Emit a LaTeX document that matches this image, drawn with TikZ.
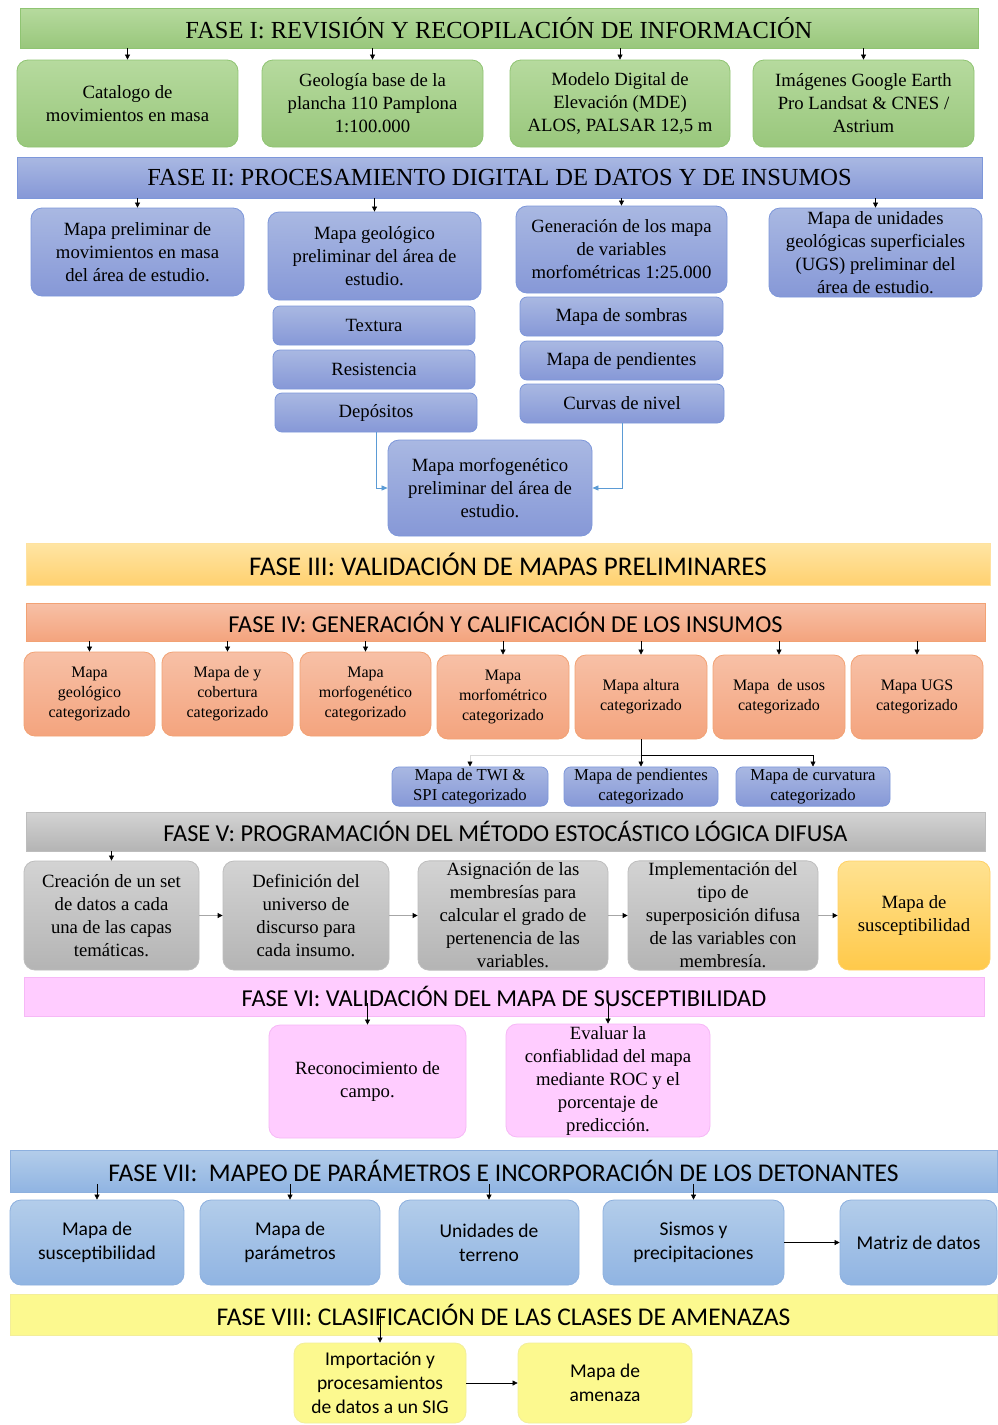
\documentclass[tikz,border=0pt]{standalone}
\usepackage{fontspec}
\setmainfont{Liberation Serif}
\newfontfamily\calib{Carlito}
\usetikzlibrary{arrows.meta}
\definecolor{gT}{HTML}{B6DA9E}\definecolor{gB}{HTML}{99C77C}\definecolor{gD}{HTML}{8FC472}
\definecolor{bT}{HTML}{A9B8E2}\definecolor{bB}{HTML}{8698D7}\definecolor{bD}{HTML}{7D97DA}
\definecolor{yT}{HTML}{FFE5A4}\definecolor{yB}{HTML}{FFD170}\definecolor{yD}{HTML}{FFE2A0}
\definecolor{sT}{HTML}{F7C0A6}\definecolor{sB}{HTML}{F4A47E}\definecolor{sD}{HTML}{F2A274}
\definecolor{kT}{HTML}{D3D3D3}\definecolor{kB}{HTML}{B4B4B4}\definecolor{kD}{HTML}{BDBDBD}
\definecolor{oT}{HTML}{FFE291}\definecolor{oB}{HTML}{FFC94A}\definecolor{oD}{HTML}{FFD166}
\definecolor{pF}{HTML}{FFCCFF}\definecolor{pD}{HTML}{F6B8F6}
\definecolor{lT}{HTML}{B3CDEA}\definecolor{lB}{HTML}{90B4E2}\definecolor{lD}{HTML}{8DB0DE}
\definecolor{vF}{HTML}{FCF98F}\definecolor{vD}{HTML}{F3EE9A}
\definecolor{conB}{HTML}{5B9BD5}
\begin{document}
\begin{tikzpicture}[x=1pt,y=-1pt,
  hdr/.style={rectangle,inner sep=0pt,line width=0.8pt},
  box/.style={rectangle,rounded corners=11pt,inner sep=2pt,align=center,line width=0.8pt},
  gfill/.style={top color=gT,bottom color=gB,draw=gD},
  bfill/.style={top color=bT,bottom color=bB,draw=bD},
  yfill/.style={top color=yT,bottom color=yB,draw=yD},
  sfill/.style={top color=sT,bottom color=sB,draw=sD},
  kfill/.style={top color=kT,bottom color=kB,draw=kD},
  ofill/.style={top color=oT,bottom color=oB,draw=oD},
  pfill/.style={fill=pF,draw=pD},
  lfill/.style={top color=lT,bottom color=lB,draw=lD},
  vfill/.style={fill=vF,draw=vD},
  serifhdr/.style={font=\fontsize{24.5}{28}\selectfont},
  sanshdr/.style={font=\calib\fontsize{#1}{28}\selectfont},
  tbig/.style={font=\fontsize{18.7}{23}\selectfont},
  tsmall/.style={font=\fontsize{16}{20}\selectfont},
  tblue/.style={font=\fontsize{16.7}{20}\selectfont},
  tsans/.style={font=\calib\fontsize{19.5}{24}\selectfont},
  arr/.style={-{Triangle[length=5pt,width=5pt]},line width=0.6pt,black},
  garr/.style={-{Triangle[length=5pt,width=5pt,color=black]},line width=0.8pt,draw=gray!70},
  barr/.style={-{Triangle[length=6pt,width=5pt,color=conB]},line width=0.7pt,draw=conB}
]
\useasboundingbox (0,0) rectangle (997,1425);
\fill[white] (0,0) rectangle (997,1425);

% ---------- FASE I ----------
\node[hdr,gfill,serifhdr,minimum width=958,minimum height=40] (h1) at (499,28) {FASE I: REVISIÓN Y RECOPILACIÓN DE INFORMACIÓN};
\node[box,gfill,tbig,minimum width=221,minimum height=87] (a1) at (127.5,103.5) {Catalogo de\\movimientos en masa};
\node[box,gfill,tbig,minimum width=221,minimum height=87] (a2) at (372.5,103.5) {Geología base de la\\plancha 110 Pamplona\\1:100.000};
\node[box,gfill,tbig,minimum width=220,minimum height=87] (a3) at (620,103.5) {Modelo Digital de\\Elevación (MDE)\\ALOS, PALSAR 12,5 m};
\node[box,gfill,tbig,minimum width=221,minimum height=87] (a4) at (863.5,103.5) {Imágenes Google Earth\\Pro Landsat \& CNES /\\Astrium};
\foreach \n in {a1,a2,a3,a4} \draw[arr] (h1.south -| \n.north) -- (\n.north);

% ---------- FASE II ----------
\node[hdr,bfill,serifhdr,minimum width=965,minimum height=41] (h2) at (499.5,177.5) {FASE II: PROCESAMIENTO DIGITAL DE DATOS Y DE INSUMOS};
\node[box,bfill,tbig,minimum width=213,minimum height=88] (b1) at (137.5,252) {Mapa preliminar de\\movimientos en masa\\del área de estudio.};
\node[box,bfill,tbig,minimum width=213,minimum height=88] (b2) at (374.5,256) {Mapa geológico\\preliminar del área de\\estudio.};
\node[box,bfill,tbig,minimum width=211,minimum height=87] (b3) at (621.5,249.5) {Generación de los mapa\\de variables\\morfométricas 1:25.000};
\node[box,bfill,tbig,minimum width=213,minimum height=89] (b4) at (875.5,252.5) {Mapa de unidades\\geológicas superficiales\\(UGS) preliminar del\\área de estudio.};
\foreach \n in {b1,b2,b3,b4} \draw[arr] (h2.south -| \n.north) -- (\n.north);
\node[box,bfill,tbig,rounded corners=7pt,minimum width=202,minimum height=39] (tex) at (374,325.5) {Textura};
\node[box,bfill,tbig,rounded corners=7pt,minimum width=202,minimum height=39] (res) at (374,369.5) {Resistencia};
\node[box,bfill,tbig,rounded corners=7pt,minimum width=202,minimum height=39] (dep) at (376,412.5) {Depósitos};
\node[box,bfill,tbig,rounded corners=7pt,minimum width=203,minimum height=39] (som) at (621.5,316.5) {Mapa de sombras};
\node[box,bfill,tbig,rounded corners=7pt,minimum width=203,minimum height=39] (pen) at (621.5,360.5) {Mapa de pendientes};
\node[box,bfill,tbig,rounded corners=7pt,minimum width=204,minimum height=39] (cur) at (622,403.5) {Curvas de nivel};
\node[box,bfill,tbig,minimum width=204,minimum height=96] (mor) at (490,488) {Mapa morfogenético\\preliminar del área de\\estudio.};
\draw[barr] (dep.south) |- (mor.west);
\draw[barr] (cur.south) |- (mor.east);

% ---------- FASE III ----------
\node[hdr,yfill,sanshdr=27,minimum width=964,minimum height=42] (h3) at (508,564) {FASE III: VALIDACIÓN DE MAPAS PRELIMINARES};

% ---------- FASE IV ----------
\node[hdr,sfill,sanshdr=24.3,minimum width=959,minimum height=38] (h4) at (505.5,622) {FASE IV: GENERACIÓN Y CALIFICACIÓN DE LOS INSUMOS};
\node[box,sfill,tsmall,minimum width=131,minimum height=84] (c1) at (89.5,694) {Mapa\\geológico\\categorizado};
\node[box,sfill,tsmall,minimum width=131,minimum height=84] (c2) at (227.5,694) {Mapa de y\\cobertura\\categorizado};
\node[box,sfill,tsmall,minimum width=131,minimum height=84] (c3) at (365.5,694) {Mapa\\morfogenético\\categorizado};
\node[box,sfill,tsmall,minimum width=132,minimum height=84] (c4) at (503,697) {Mapa\\morfométrico\\categorizado};
\node[box,sfill,tsmall,minimum width=132,minimum height=84] (c5) at (641,697) {Mapa altura\\categorizado};
\node[box,sfill,tsmall,minimum width=132,minimum height=84] (c6) at (779,697) {Mapa\ \ de usos\\categorizado};
\node[box,sfill,tsmall,minimum width=132,minimum height=84] (c7) at (917,697) {Mapa UGS\\categorizado};
\foreach \n in {c1,c2,c3,c4,c5,c6,c7} \draw[arr] (h4.south -| \n.north) -- (\n.north);
\node[box,bfill,tblue,rounded corners=7pt,minimum width=156,minimum height=39] (d1) at (470,786.5) {Mapa de TWI \&\\SPI categorizado};
\node[box,bfill,tblue,rounded corners=7pt,minimum width=154,minimum height=39] (d2) at (641,786.5) {Mapa de pendientes\\categorizado};
\node[box,bfill,tblue,rounded corners=7pt,minimum width=154,minimum height=39] (d3) at (813,786.5) {Mapa de curvatura\\categorizado};
\coordinate (j) at (641,755);
\draw[line width=0.8pt] (c5.south) -- (j);
\draw[-{Triangle[length=5pt,width=5pt,color=black]},line width=0.8pt,draw=gray!30] (j) -| (d1.north);
\draw[arr] (j) -- (d2.north);
\draw[arr] (j) -| (d3.north);

% ---------- FASE V ----------
\node[hdr,kfill,sanshdr=24.3,minimum width=959,minimum height=39] (h5) at (505.5,831.5) {FASE V: PROGRAMACIÓN DEL MÉTODO ESTOCÁSTICO LÓGICA DIFUSA};
\node[box,kfill,tbig,minimum width=175,minimum height=109] (e1) at (111.5,915.5) {Creación de un set\\de datos a cada\\una de las capas\\temáticas.};
\node[box,kfill,tbig,minimum width=166,minimum height=109] (e2) at (306,915.5) {Definición del\\universo de\\discurso para\\cada insumo.};
\node[box,kfill,tbig,minimum width=190,minimum height=109] (e3) at (513,915.5) {Asignación de las\\membresías para\\calcular el grado de\\pertenencia de las\\variables.};
\node[box,kfill,tbig,minimum width=190,minimum height=109] (e4) at (723,915.5) {Implementación del\\tipo de\\superposición difusa\\de las variables con\\membresía.};
\node[box,ofill,tbig,minimum width=152,minimum height=109] (e5) at (914,915.5) {Mapa de\\susceptibilidad};
\draw[arr] (h5.south -| e1.north) -- (e1.north);
\draw[garr] (e1) -- (e2);
\draw[garr] (e2) -- (e3);
\draw[garr] (e3) -- (e4);
\draw[garr] (e4) -- (e5);

% ---------- FASE VI ----------
\node[hdr,pfill,sanshdr=24.3,minimum width=960,minimum height=39] (h6) at (504,996.5) {FASE VI: VALIDACIÓN DEL MAPA DE SUSCEPTIBILIDAD};
\node[box,pfill,tbig,minimum width=197,minimum height=113] (f1) at (367.5,1081.5) {Reconocimiento de\\campo.};
\node[box,pfill,tbig,minimum width=204,minimum height=111] (f2) at (608,1080.5) {Evaluar la\\confiablidad del mapa\\mediante ROC y el\\porcentaje de\\predicción.};
\draw[arr] ([yshift=13pt]h6.south -| f1.north) -- (f1.north);
\draw[arr] ([yshift=13pt]h6.south -| f2.north) -- (f2.north);

% ---------- FASE VII ----------
\node[hdr,lfill,sanshdr=25.5,minimum width=987,minimum height=42] (h7) at (503.5,1171) {FASE VII:\ \ MAPEO DE PARÁMETROS E INCORPORACIÓN DE LOS DETONANTES};
\node[box,lfill,tsans,minimum width=174,minimum height=85] (g1) at (97,1242.5) {Mapa de\\susceptibilidad};
\node[box,lfill,tsans,minimum width=180,minimum height=85] (g2) at (290,1242.5) {Mapa de\\parámetros};
\node[box,lfill,tsans,minimum width=180,minimum height=85] (g3) at (489,1242.5) {Unidades de\\terreno};
\node[box,lfill,tsans,minimum width=181,minimum height=85] (g4) at (693.5,1242.5) {Sismos y\\precipitaciones};
\node[box,lfill,tsans,minimum width=157,minimum height=85] (g5) at (918.5,1242.5) {Matriz de datos};
\foreach \n in {g1,g2,g3,g4} \draw[arr] ([yshift=8pt]h7.south -| \n.north) -- (\n.north);
\draw[arr] (g4) -- (g5);

% ---------- FASE VIII ----------
\node[hdr,vfill,sanshdr=25.5,minimum width=987,minimum height=41] (h8) at (503.5,1314.5) {FASE VIII: CLASIFICACIÓN DE LAS CLASES DE AMENAZAS};
\node[box,vfill,tsans,minimum width=172,minimum height=80] (k1) at (380,1383) {Importación y\\procesamientos\\de datos a un SIG};
\node[box,vfill,tsans,minimum width=174,minimum height=80] (k2) at (605,1383) {Mapa de\\amenaza};
\draw[arr] ([yshift=22pt]h8.south -| k1.north) -- (k1.north);
\draw[arr] (k1) -- (k2);
\end{tikzpicture}
\end{document}
